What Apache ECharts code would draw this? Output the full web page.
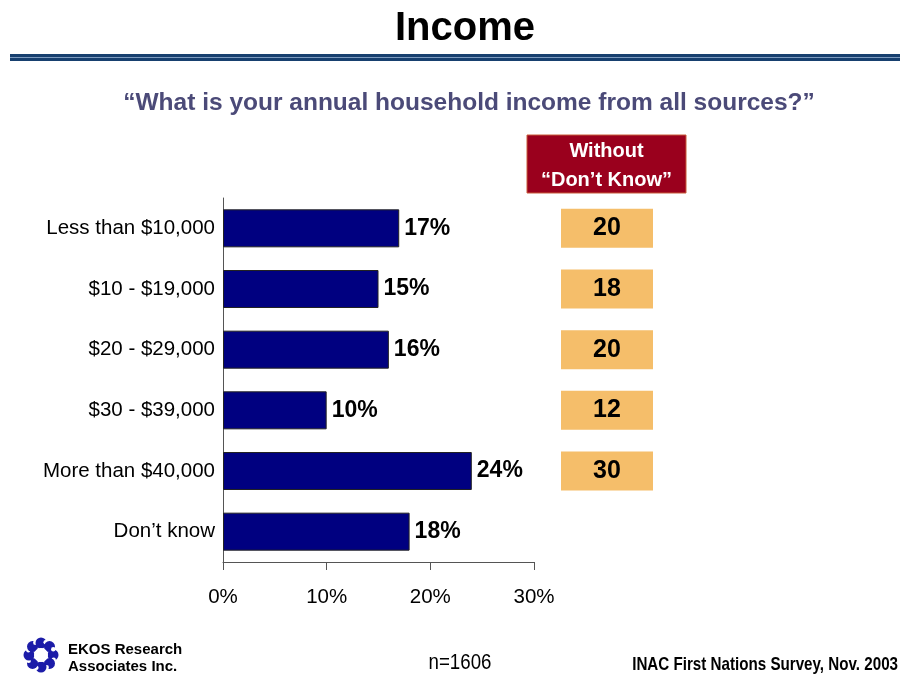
<!DOCTYPE html>
<html>
<head>
<meta charset="utf-8">
<script src="https://cdn.jsdelivr.net/npm/echarts@6/dist/echarts.min.js"></script>
<style>
  html, body { margin: 0; padding: 0; background: #fff; }
  #chart { width: 900px; height: 677px; }
</style>
</head>
<body>
<div id="chart"></div>
<script>
// Income brackets (top to bottom)
const categories = [
  'Less than $10,000',
  '$10 - $19,000',
  '$20 - $29,000',
  '$30 - $39,000',
  'More than $40,000',
  'Don\u2019t know'
];
// Share of respondents, percent
const percentValues = [17, 15, 16, 10, 24, 18];
// Share recomputed excluding "Don't know"
const withoutDontKnow = [20, 18, 20, 12, 30, null];
// Axis ticks
const axisTicks = [0, 10, 20, 30];

const FONT = '"Liberation Sans", Arial, sans-serif';

const chart = echarts.init(document.getElementById('chart'), null, { renderer: 'canvas' });

// Reverse so the first category sits at the top of the y axis
const catsRev = categories.slice().reverse();
const pctRev = percentValues.slice().reverse();
const wdkRev = withoutDontKnow.slice().reverse();

const gridTop = 198;
const gridHeight = 364;

// Logo: ring of small swirls
const logoCx = 41, logoCy = 655;
const logoParts = [];
for (let i = 0; i < 8; i++) {
  const a = (i / 8) * Math.PI * 2;
  logoParts.push({
    type: 'circle',
    shape: { cx: logoCx + Math.cos(a) * 12, cy: logoCy + Math.sin(a) * 12, r: 5.5 },
    style: { fill: '#1c1ca8' }
  });
  logoParts.push({
    type: 'circle',
    shape: { cx: logoCx + Math.cos(a + 0.35) * 13.5, cy: logoCy + Math.sin(a + 0.35) * 13.5, r: 2.2 },
    style: { fill: '#fff' }
  });
}
logoParts.push({ type: 'circle', shape: { cx: logoCx, cy: logoCy, r: 7 }, style: { fill: '#fff' } });

chart.setOption({
  animation: false,
  backgroundColor: '#fff',
  title: [
    {
      text: 'Income',
      left: 460, top: 4, textAlign: 'center',
      textStyle: { fontFamily: FONT, fontSize: 40, fontWeight: 'bold', color: '#000' }
    },
    {
      text: '\u201CWhat is your annual household income from all sources?\u201D',
      left: 464, top: 86, textAlign: 'center',
      textStyle: { fontFamily: FONT, fontSize: 24.5, fontWeight: 'bold', color: '#4b4a78' }
    }
  ],
  grid: [
    { left: 223, top: gridTop, width: 311, height: gridHeight, containLabel: false },
    { left: 561, top: gridTop, width: 92, height: gridHeight, containLabel: false }
  ],
  xAxis: [
    {
      gridIndex: 0, type: 'value', min: 0, max: 30, interval: 10,
      axisLine: { show: true, lineStyle: { color: '#555', width: 1 } },
      axisTick: { show: true, length: 8, lineStyle: { color: '#555' } },
      splitLine: { show: false },
      axisLabel: {
        margin: 25, fontFamily: FONT, fontSize: 20.5, color: '#000',
        formatter: v => axisTicks.includes(v) ? v + '%' : ''
      }
    },
    {
      gridIndex: 1, type: 'value', min: 0, max: 1, show: false
    }
  ],
  yAxis: [
    {
      gridIndex: 0, type: 'category', data: catsRev,
      axisLine: { show: true, lineStyle: { color: '#555', width: 1 } },
      axisTick: { show: false },
      axisLabel: { margin: 8, fontFamily: FONT, fontSize: 20.5, color: '#000' }
    },
    {
      gridIndex: 1, type: 'category', data: catsRev, show: false
    }
  ],
  series: [
    {
      type: 'bar', xAxisIndex: 0, yAxisIndex: 0,
      data: pctRev, barWidth: 38,
      itemStyle: { color: '#000080', borderColor: '#222', borderWidth: 1 },
      label: {
        show: true, position: 'right', distance: 5,
        formatter: p => p.value + '%',
        fontFamily: FONT, fontSize: 23, fontWeight: 'bold', color: '#000'
      }
    },
    {
      type: 'bar', xAxisIndex: 1, yAxisIndex: 1,
      data: wdkRev.map(v => v == null ? null : 1),
      barWidth: 39,
      itemStyle: { color: '#f5be6a' },
      label: {
        show: true, position: 'inside',
        formatter: p => String(wdkRev[p.dataIndex]),
        fontFamily: FONT, fontSize: 25, fontWeight: 'bold', color: '#000'
      }
    }
  ],
  graphic: [
    // double rule under the title
    { type: 'rect', shape: { x: 10, y: 54, width: 890, height: 7 }, style: { fill: '#17406f' } },
    { type: 'rect', shape: { x: 10, y: 57, width: 890, height: 1 }, style: { fill: '#7e9cc0' } },
    // column header box
    {
      type: 'rect', shape: { x: 527, y: 135, width: 159, height: 58 },
      style: { fill: '#9a001d', stroke: '#c85a3a', lineWidth: 1 }
    },
    {
      type: 'text', x: 606.5, y: 151,
      style: {
        text: 'Without', fontFamily: FONT, fontSize: 20, fontWeight: 'bold',
        fill: '#fff', align: 'center', verticalAlign: 'middle'
      }
    },
    {
      type: 'text', x: 606.5, y: 180,
      style: {
        text: '\u201CDon\u2019t Know\u201D', fontFamily: FONT, fontSize: 20, fontWeight: 'bold',
        fill: '#fff', align: 'center', verticalAlign: 'middle'
      }
    },
    // footer
    { type: 'group', children: logoParts },
    {
      type: 'text', x: 68, y: 650,
      style: {
        text: 'EKOS Research', fontFamily: FONT, fontSize: 15, fontWeight: 'bold',
        fill: '#000', align: 'left', verticalAlign: 'middle'
      }
    },
    {
      type: 'text', x: 68, y: 667,
      style: {
        text: 'Associates Inc.', fontFamily: FONT, fontSize: 15, fontWeight: 'bold',
        fill: '#000', align: 'left', verticalAlign: 'middle'
      }
    },
    {
      type: 'text', x: 460, y: 663, scaleX: 0.85,
      style: {
        text: 'n=1606', fontFamily: FONT, fontSize: 22,
        fill: '#000', align: 'center', verticalAlign: 'middle'
      }
    },
    {
      type: 'text', x: 898, y: 665, scaleX: 0.82,
      style: {
        text: 'INAC First Nations Survey, Nov. 2003', fontFamily: FONT, fontSize: 18.5, fontWeight: 'bold',
        fill: '#000', align: 'right', verticalAlign: 'middle'
      }
    }
  ]
});
</script>
</body>
</html>
